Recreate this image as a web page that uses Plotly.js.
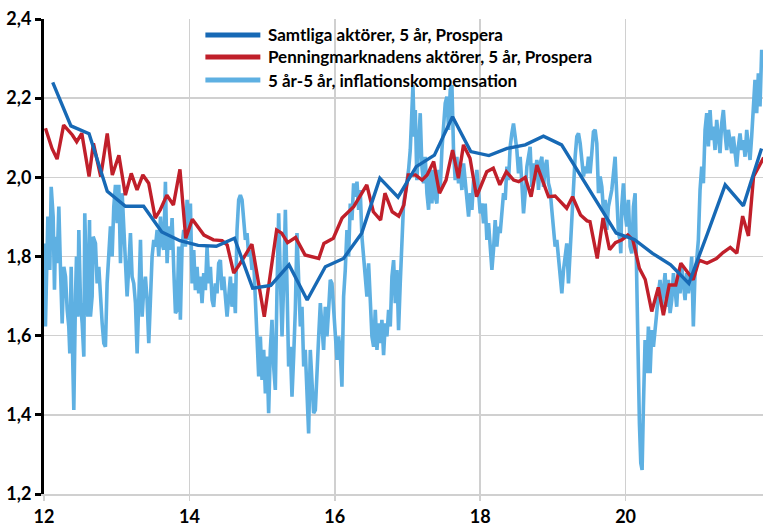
<!DOCTYPE html>
<html>
<head>
<meta charset="utf-8">
<script src="https://cdn.plot.ly/plotly-3.0.1.min.js"></script>
<style>
  html, body { margin: 0; padding: 0; background: #fff; }
  #chart { width: 763px; height: 526px; }
</style>
</head>
<body>
<div id="chart"></div>
<script>
// Samtliga aktörer, 5 år, Prospera (quarterly survey)
var allX = [12.12,12.37,12.62,12.87,13.12,13.37,13.62,13.87,14.12,14.37,14.62,14.87,15.12,15.37,15.62,15.87,
  16.12,16.37,16.62,16.87,17.12,17.37,17.62,17.87,18.12,18.37,18.62,18.87,19.12,19.37,19.62,19.87,
  20.12,20.37,20.62,20.87,21.12,21.37,21.62,21.87];
var allY = [2.24,2.13,2.11,1.965,1.927,1.927,1.862,1.84,1.828,1.826,1.846,1.72,1.727,1.779,1.69,1.774,
  1.795,1.859,1.998,1.95,2.027,2.056,2.153,2.065,2.055,2.073,2.082,2.104,2.082,2.008,1.933,1.859,
  1.843,1.808,1.779,1.732,1.855,1.981,1.928,2.073];

// Penningmarknadens aktörer, 5 år, Prospera
var mmX = [12.02,12.11,12.18,12.27,12.39,12.45,12.52,12.62,12.68,12.78,12.87,12.94,13.03,13.12,13.2,13.28,
  13.36,13.44,13.53,13.6,13.69,13.78,13.87,13.95,14.04,14.2,14.33,14.45,14.52,14.61,14.7,14.86,
  15.03,15.2,15.27,15.35,15.46,15.59,15.78,15.85,15.98,16.1,16.26,16.44,16.53,16.63,16.69,16.79,
  16.88,16.95,17.01,17.11,17.2,17.27,17.36,17.44,17.53,17.62,17.7,17.77,17.86,17.95,18.09,18.18,
  18.27,18.36,18.46,18.53,18.62,18.7,18.78,18.94,19.03,19.19,19.27,19.38,19.47,19.51,19.61,19.69,
  19.78,19.86,19.95,20.03,20.1,20.19,20.27,20.36,20.45,20.52,20.6,20.69,20.76,20.85,20.93,21.01,
  21.12,21.25,21.34,21.44,21.53,21.61,21.69,21.76,21.86,21.9];
var mmY = [2.124,2.073,2.046,2.132,2.107,2.09,2.111,2.002,2.086,2.002,2.111,2.006,2.056,1.955,2.01,1.968,
  2.006,1.985,1.897,1.918,1.955,1.93,2.02,1.846,1.894,1.854,1.842,1.84,1.829,1.758,1.783,1.831,
  1.648,1.867,1.859,1.835,1.848,1.804,1.795,1.833,1.846,1.897,1.926,1.981,1.913,1.892,1.96,1.913,
  1.902,1.93,2.006,2.006,1.993,2.006,2.04,1.96,1.993,2.069,1.998,2.082,2.048,1.951,2.014,2.023,
  1.981,2.014,1.993,1.989,2.0,1.951,2.031,1.951,1.953,1.922,1.951,1.905,1.89,1.888,1.795,1.897,
  1.817,1.835,1.842,1.854,1.842,1.77,1.742,1.661,1.722,1.652,1.728,1.728,1.783,1.762,1.741,1.791,
  1.783,1.795,1.81,1.823,1.808,1.902,1.852,2.002,2.035,2.05];

// 5 år-5 år, inflationskompensation (read off roughly every 1.7 px)
var ikX = [12.0,12.02,12.053,12.08,12.099,12.126,12.144,12.158,12.181,12.204,12.227,12.25,12.273,12.296,12.319,12.341,
  12.355,12.374,12.396,12.41,12.433,12.447,12.465,12.479,12.502,12.525,12.548,12.561,12.584,12.603,12.626,12.639,
  12.662,12.676,12.708,12.731,12.754,12.777,12.8,12.823,12.845,12.868,12.891,12.914,12.937,12.96,12.983,13.006,
  13.029,13.052,13.075,13.098,13.12,13.143,13.166,13.189,13.212,13.235,13.258,13.281,13.304,13.327,13.35,13.372,
  13.395,13.418,13.441,13.464,13.487,13.51,13.533,13.556,13.579,13.602,13.624,13.647,13.67,13.693,13.716,13.739,
  13.762,13.785,13.808,13.831,13.853,13.876,13.899,13.922,13.945,13.968,13.991,
  14.014,14.037,14.06,14.082,14.105,14.128,14.151,14.174,14.197,14.22,14.243,14.266,14.289,14.312,14.334,14.357,
  14.38,14.403,14.426,14.449,14.472,14.495,14.518,14.541,14.564,14.586,14.609,14.632,14.655,14.678,14.701,14.724,
  14.747,14.77,14.793,14.816,14.838,14.861,14.884,14.907,14.93,14.953,14.976,14.999,15.022,15.045,15.068,15.09,
  15.113,15.136,15.159,15.182,15.205,15.228,15.251,15.274,15.297,15.32,15.342,15.365,15.388,15.411,15.434,15.457,
  15.48,15.503,15.526,15.549,15.572,15.594,15.617,15.64,15.663,15.686,15.709,15.732,15.755,15.778,15.801,15.824,
  15.846,15.869,15.892,15.915,15.938,15.961,15.984,16.007,16.03,16.053,16.075,16.098,
  16.121,16.144,16.167,16.19,16.213,16.236,16.259,16.282,16.305,16.328,16.35,16.373,16.396,16.419,16.442,16.465,
  16.488,16.511,16.534,16.557,16.58,16.603,16.625,16.648,16.671,16.694,16.717,16.74,16.763,16.786,16.809,16.832,
  16.855,16.877,16.9,16.923,16.946,16.969,16.992,17.015,17.038,17.061,17.075,17.093,17.107,17.129,17.152,17.175,
  17.198,17.221,17.244,17.267,17.29,17.313,17.336,17.359,17.381,17.404,17.427,17.45,17.473,17.496,17.519,17.542,
  17.565,17.588,17.611,17.633,17.656,17.679,17.702,17.725,17.748,17.771,17.794,17.817,17.84,17.863,17.886,17.909,
  17.932,17.954,17.977,18.0,18.023,18.046,18.069,18.092,18.115,18.138,18.161,
  18.183,18.206,18.229,18.252,18.275,18.298,18.321,18.344,18.367,18.39,18.412,18.435,18.458,18.481,18.504,18.527,
  18.55,18.573,18.596,18.619,18.642,18.664,18.687,18.71,18.733,18.756,18.779,18.802,18.825,18.848,18.871,18.894,
  18.916,18.939,18.962,18.985,19.008,19.031,19.054,19.077,19.1,19.123,19.146,19.168,19.191,19.214,19.237,19.26,
  19.283,19.306,19.329,19.352,19.375,19.398,19.421,19.443,19.466,19.489,19.512,19.535,19.558,19.581,19.604,19.627,
  19.65,19.673,19.695,19.718,19.741,19.764,
  19.81,19.833,19.856,19.869,19.888,19.902,19.924,19.934,19.947,19.97,19.993,20.016,20.039,20.062,20.085,20.108,
  20.131,20.144,20.163,20.176,20.19,20.209,20.227,20.245,20.268,20.291,20.314,20.337,20.36,20.383,20.406,20.428,
  20.451,20.474,20.497,20.52,20.543,20.566,20.589,20.612,20.635,20.658,20.68,20.703,20.726,20.749,20.772,20.795,
  20.818,20.841,20.864,20.887,20.909,20.932,20.955,20.978,21.001,21.024,21.047,21.07,21.093,21.116,21.139,21.162,
  21.185,21.207,21.23,21.253,21.276,21.299,21.322,21.345,21.368,21.391,21.414,21.437,21.46,21.482,21.505,21.528,
  21.551,21.574,21.597,21.62,21.643,21.666,21.689,21.712,21.734,21.757,21.78,21.803,21.826,21.849,21.872,21.89];
var ikY = [1.833,1.623,1.901,1.766,1.976,1.901,1.716,1.85,1.783,1.926,1.766,1.631,1.774,1.749,1.665,1.623,
  1.555,1.774,1.53,1.412,1.699,1.8,1.648,1.867,1.682,1.631,1.547,1.909,1.724,1.648,1.892,1.648,
  1.699,1.85,1.833,1.732,1.774,1.69,1.631,1.581,1.572,1.732,1.817,1.876,1.8,1.926,1.981,1.884,
  1.981,1.783,1.96,1.867,1.8,1.699,1.774,1.859,1.749,1.732,1.682,1.555,1.69,1.842,1.648,1.716,
  1.749,1.69,1.581,1.69,1.8,1.842,1.825,1.867,1.8,1.901,1.833,1.817,1.989,1.783,1.876,1.817,
  1.897,1.766,1.657,1.665,1.825,1.64,1.825,1.867,1.825,1.943,1.842,
  1.934,1.732,1.816,1.715,1.774,1.707,1.749,1.682,1.758,1.715,1.825,1.732,1.774,1.69,1.673,1.732,
  1.707,1.783,1.791,1.715,1.749,1.682,1.648,1.699,1.749,1.673,1.732,1.657,1.867,1.943,1.955,1.943,
  1.892,1.842,1.859,1.8,1.816,1.766,1.791,1.699,1.631,1.497,1.598,1.488,1.564,1.454,1.547,1.404,
  1.564,1.64,1.522,1.463,1.715,1.909,1.749,1.598,1.732,1.918,1.732,1.522,1.572,1.446,1.547,1.665,
  1.859,1.732,1.623,1.673,1.522,1.564,1.463,1.353,1.564,1.497,1.404,1.412,1.53,1.598,1.682,1.614,
  1.564,1.673,1.598,1.665,1.741,1.732,1.657,1.598,1.539,1.598,1.556,1.471,
  1.699,1.766,1.867,1.8,1.934,1.892,1.985,1.951,1.989,1.918,1.968,1.85,1.8,1.766,1.699,1.783,
  1.682,1.598,1.572,1.665,1.564,1.631,1.581,1.64,1.551,1.631,1.598,1.665,1.623,1.749,1.791,1.682,
  1.766,1.614,1.732,1.867,1.934,1.96,1.985,2.019,2.069,2.204,2.233,2.103,2.17,1.993,2.103,2.162,
  2.027,1.985,2.052,1.96,1.918,2.019,1.934,2.019,1.951,1.934,2.019,1.968,2.069,2.137,2.187,2.204,
  2.12,2.221,2.233,2.069,1.993,2.052,1.985,2.019,1.968,2.035,1.993,1.951,1.901,1.96,1.918,1.993,
  1.968,2.019,1.968,1.909,1.934,1.884,1.934,1.842,1.884,1.825,1.766,
  1.817,1.892,1.825,1.875,1.859,1.918,1.96,1.943,2.027,1.993,2.077,2.111,2.136,2.103,2.069,2.01,
  2.052,1.985,1.909,1.96,2.027,2.052,2.077,1.976,2.035,2.01,2.044,1.968,2.035,2.052,1.976,2.027,
  2.044,1.985,1.968,1.918,1.859,1.825,1.842,1.791,1.766,1.707,1.766,1.8,1.833,1.732,1.816,1.875,
  1.985,2.052,2.103,2.111,2.086,2.052,2.002,2.027,2.01,2.052,2.01,2.061,2.115,2.12,2.086,1.96,
  2.002,1.976,1.918,1.943,1.867,1.926,
  1.968,2.01,2.052,1.993,1.926,1.859,1.842,1.808,1.926,1.985,1.909,1.876,1.943,1.825,1.808,1.926,
  1.96,1.8,1.631,1.505,1.379,1.278,1.261,1.421,1.589,1.505,1.623,1.505,1.614,1.572,1.606,1.657,
  1.707,1.741,1.673,1.707,1.758,1.673,1.741,1.657,1.69,1.758,1.707,1.673,1.758,1.707,1.774,1.724,
  1.69,1.758,1.707,1.741,1.8,1.623,1.758,1.791,1.842,1.968,2.027,1.985,2.12,2.162,2.078,2.17,
  2.094,2.128,2.069,2.145,2.094,2.061,2.137,2.17,2.111,2.069,2.12,2.094,2.061,2.103,2.069,2.027,
  2.078,2.111,2.069,2.094,2.052,2.12,2.078,2.044,2.103,2.195,2.246,2.162,2.263,2.179,2.322,2.28];

var xTicks = [12, 14, 16, 18, 20];
var xTickText = ['12', '14', '16', '18', '20'];
var legendNames = ['Samtliga aktörer, 5 år, Prospera',
  'Penningmarknadens aktörer, 5 år, Prospera',
  '5 år-5 år, inflationskompensation'];

var colors = ['#1769b5', '#c01f2a', '#5eb0e2'];
var font = 'Lato, "Open Sans", sans-serif';

var traces = [
  {x: ikX, y: ikY, mode: 'lines', name: legendNames[2], line: {color: colors[2], width: 3.6}},
  {x: mmX, y: mmY, mode: 'lines', name: legendNames[1], line: {color: colors[1], width: 3.4}},
  {x: allX, y: allY, mode: 'lines', name: legendNames[0], line: {color: colors[0], width: 3.4}}
];

// hand-drawn legend: line samples + labels
var shapes = [];
var annotations = [];
var legendRows = [35, 57, 80];
legendNames.forEach(function (name, i) {
  shapes.push({type: 'line', xref: 'paper', yref: 'paper',
    x0: (205 - 43.5) / 719.5, x1: (260 - 43.5) / 719.5,
    y0: 1 - (legendRows[i] - 19) / 475, y1: 1 - (legendRows[i] - 19) / 475,
    line: {color: colors[i], width: 5}});
  annotations.push({xref: 'paper', yref: 'paper', xanchor: 'left', yanchor: 'middle',
    x: (266 - 43.5) / 719.5, y: 1 - (legendRows[i] - 19) / 475,
    text: '<b>' + name + '</b>', showarrow: false,
    font: {family: font, size: 17, color: '#000'}});
});

var layout = {
  width: 763, height: 526,
  margin: {l: 43.5, r: 0, t: 19, b: 32},
  paper_bgcolor: '#fff', plot_bgcolor: '#fff',
  separators: ',.',
  showlegend: false,
  font: {family: font, color: '#000'},
  xaxis: {
    range: [12, 21.89],
    tickvals: xTicks, ticktext: xTickText,
    showgrid: true, gridcolor: '#d0d0d0', gridwidth: 1.5,
    showline: true, linecolor: '#d0d0d0', linewidth: 2,
    ticks: 'outside', ticklen: 5, tickwidth: 1.5, tickcolor: '#d0d0d0',
    tickfont: {family: font, size: 18, color: '#000', weight: 'bold'},
    zeroline: false, fixedrange: true
  },
  yaxis: {
    range: [1.2, 2.4],
    dtick: 0.2, tick0: 1.2, tickformat: '.1f',
    showgrid: true, gridcolor: '#d0d0d0', gridwidth: 1.5,
    showline: true, linecolor: '#000', linewidth: 3,
    ticks: 'outside', ticklen: 6, tickwidth: 3, tickcolor: '#000',
    tickfont: {family: font, size: 18, color: '#000', weight: 'bold'},
    zeroline: false, fixedrange: true
  },
  shapes: shapes,
  annotations: annotations
};

Plotly.newPlot('chart', traces, layout, {staticPlot: true});
</script>
</body>
</html>
